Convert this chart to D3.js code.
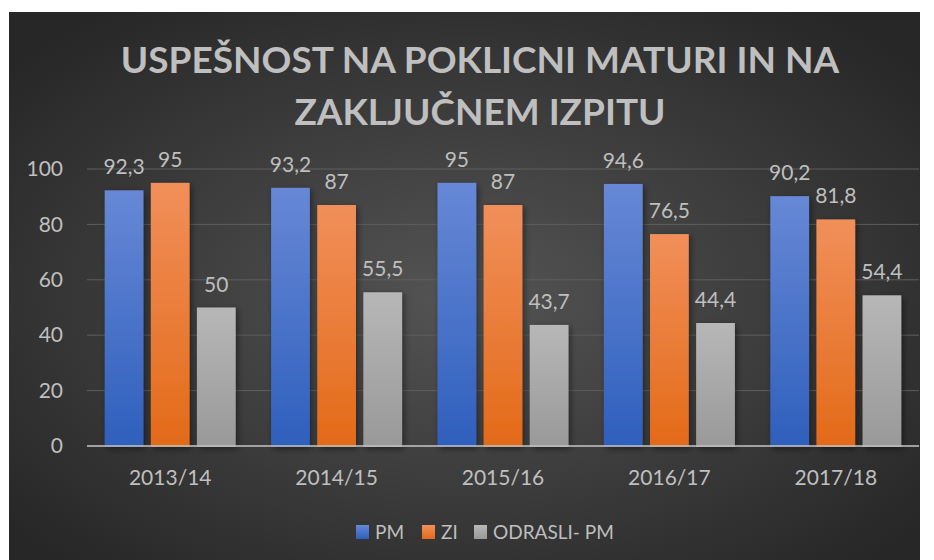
<!DOCTYPE html>
<html>
<head>
<meta charset="utf-8">
<script src="https://cdn.jsdelivr.net/npm/d3@7"></script>
<style>
  body { margin: 0; background: #fff; }
  text { font-family: Lato, "Open Sans", sans-serif; }
</style>
</head>
<body>
<svg id="chart" width="934" height="560"></svg>
<script>
// data
const years = ['2013/14', '2014/15', '2015/16', '2016/17', '2017/18'];
const seriesNames = ['PM', 'ZI', 'ODRASLI- PM'];
const pmValues = [92.3, 93.2, 95, 94.6, 90.2];
const ziValues = [95, 87, 87, 76.5, 81.8];
const odrasliValues = [50, 55.5, 43.7, 44.4, 54.4];
const yTicks = [0, 20, 40, 60, 80, 100];
const titleLines = ['USPEŠNOST NA POKLICNI MATURI IN NA', 'ZAKLJUČNEM IZPITU'];

const seriesValues = [pmValues, ziValues, odrasliValues];
const colors = [
    { top: '#6788d6', bottom: '#2e5fbc' },
    { top: '#f18f5a', bottom: '#e36a18' },
    { top: '#b7b7b7', bottom: '#999999' }
];

const svg = d3.select('#chart');
const defs = svg.append('defs');

// dark radial background
const bg = defs.append('radialGradient')
    .attr('id', 'bg').attr('cx', '50%').attr('cy', '52%').attr('r', '65%');
bg.append('stop').attr('offset', '0%').attr('stop-color', '#545454');
bg.append('stop').attr('offset', '100%').attr('stop-color', '#272727');

colors.forEach((c, i) => {
    const g = defs.append('linearGradient')
        .attr('id', 'bar' + i).attr('x1', 0).attr('y1', 0).attr('x2', 0).attr('y2', 1);
    g.append('stop').attr('offset', '0%').attr('stop-color', c.top);
    g.append('stop').attr('offset', '100%').attr('stop-color', c.bottom);
});

const shadow = defs.append('filter').attr('id', 'shadow')
    .attr('x', '-20%').attr('y', '-10%').attr('width', '150%').attr('height', '130%');
shadow.append('feDropShadow')
    .attr('dx', 2).attr('dy', 2).attr('stdDeviation', 3)
    .attr('flood-color', '#000').attr('flood-opacity', 0.45);

defs.append('clipPath').attr('id', 'area')
    .append('rect').attr('x', 9).attr('y', 12).attr('width', 911).attr('height', 548);

const root = svg.append('g').attr('clip-path', 'url(#area)');
root.append('rect')
    .attr('x', 9).attr('y', 12).attr('width', 911).attr('height', 548)
    .attr('fill', 'url(#bg)');

// title
root.append('text')
    .attr('x', 480).attr('y', 73)
    .attr('text-anchor', 'middle')
    .attr('font-size', 37).attr('font-weight', 'bold')
    .attr('fill', '#bfbfbf')
    .selectAll('tspan').data(titleLines).join('tspan')
    .attr('x', 480).attr('dy', (d, i) => i === 0 ? 0 : 52)
    .text(d => d);

const plot = { left: 87, right: 919, top: 169, bottom: 446 };

const x0 = d3.scaleBand().domain(years)
    .range([plot.left, plot.right])
    .paddingInner(0.213).paddingOuter(0.1065);
const x1 = d3.scaleBand().domain(seriesNames)
    .range([0, x0.bandwidth()]).paddingInner(0.16);
const y = d3.scaleLinear().domain([0, 100]).range([plot.bottom, plot.top]);

// gridlines
root.append('g').selectAll('line').data(yTicks.filter(t => t > 0)).join('line')
    .attr('x1', plot.left).attr('x2', plot.right)
    .attr('y1', d => y(d)).attr('y2', d => y(d))
    .attr('stroke', '#5e5e5e').attr('stroke-width', 1);

// y axis labels
const yAxis = root.append('g')
    .attr('transform', `translate(${plot.left - 24},0)`)
    .call(d3.axisLeft(y).tickValues(yTicks).tickSize(0).tickPadding(0));
yAxis.select('.domain').remove();
yAxis.selectAll('text')
    .attr('font-size', 21).attr('fill', '#bfbfbf')
    .style('font-family', 'Lato, sans-serif');

// bars
const groups = root.append('g').selectAll('g').data(years).join('g')
    .attr('transform', d => `translate(${x0(d)},0)`);

groups.selectAll('rect')
    .data((d, i) => seriesValues.map((vals, s) => ({ s, name: seriesNames[s], v: vals[i] })))
    .join('rect')
    .attr('x', d => x1(d.name))
    .attr('width', x1.bandwidth())
    .attr('y', d => y(d.v))
    .attr('height', d => y(0) - y(d.v) + 1)
    .attr('fill', d => `url(#bar${d.s})`)
    .attr('filter', 'url(#shadow)');

groups.selectAll('text.val')
    .data((d, i) => seriesValues.map((vals, s) => ({ s, name: seriesNames[s], v: vals[i] })))
    .join('text')
    .attr('class', 'val')
    .attr('x', d => x1(d.name) + x1.bandwidth() / 2)
    .attr('y', d => y(d.v) - 16)
    .attr('text-anchor', 'middle')
    .attr('font-size', 21).attr('fill', '#bfbfbf')
    .text(d => String(d.v).replace('.', ','));

// baseline
root.append('line')
    .attr('x1', plot.left).attr('x2', plot.right)
    .attr('y1', y(0)).attr('y2', y(0))
    .attr('stroke', '#bdbdbd').attr('stroke-opacity', 0.8).attr('stroke-width', 2);

// x axis labels
const xAxis = root.append('g')
    .attr('transform', `translate(0,${plot.bottom + 20})`)
    .call(d3.axisBottom(x0).tickSize(0).tickPadding(0));
xAxis.select('.domain').remove();
xAxis.selectAll('text')
    .attr('font-size', 21).attr('fill', '#bfbfbf').attr('dy', '0.9em')
    .style('font-family', 'Lato, sans-serif');

// legend
const legendX = [356, 422, 474];
const legend = root.append('g').selectAll('g').data(seriesNames).join('g')
    .attr('transform', (d, i) => `translate(${legendX[i]},525)`);
legend.append('rect')
    .attr('width', 13).attr('height', 14)
    .attr('fill', (d, i) => `url(#bar${i})`);
legend.append('text')
    .attr('x', 19).attr('y', 14)
    .attr('font-size', 19).attr('fill', '#bfbfbf')
    .text(d => d);
</script>
</body>
</html>
